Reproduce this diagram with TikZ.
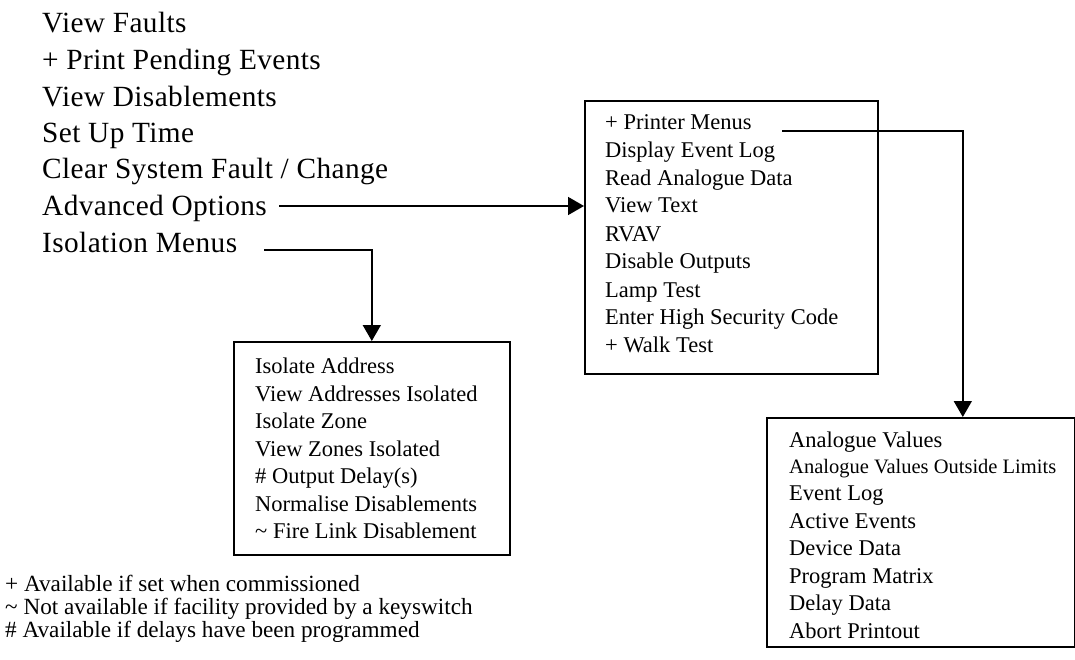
\documentclass[tikz,border=0pt]{standalone}
\usepackage{fontspec}
\setmainfont{Liberation Serif}
\usetikzlibrary{arrows.meta,calc}
\tikzset{
  boxframe/.style={draw=black, line width=1.6pt, inner sep=0pt, anchor=north west, rectangle},
  mainitem/.style={anchor=base west, inner sep=0pt, font=\fontsize{29.3}{34}\selectfont\addfontfeatures{LetterSpace=1.4}},
  item/.style={anchor=base west, inner sep=0pt, font=\fontsize{22.5}{27}\selectfont},
  smallitem/.style={anchor=base west, inner sep=0pt, font=\fontsize{20.5}{25}\selectfont},
  note/.style={anchor=base west, inner sep=0pt, font=\fontsize{23.2}{23}\selectfont},
  link/.style={line width=1.6pt, -{Triangle[length=16pt,width=18pt]}},
}
\begin{document}
\begin{tikzpicture}[x=1pt,y=-1pt]
\useasboundingbox (0,0) rectangle (1075,660);
% main menu
\node[mainitem] (m1) at (42,33) {View Faults};
\node[mainitem] (m2) at (42,70) {+ Print Pending Events};
\node[mainitem] (m3) at (42,107) {View Disablements};
\node[mainitem] (m4) at (42,143) {Set Up Time};
\node[mainitem] (m5) at (42,179) {Clear System Fault / Change};
\node[mainitem] (advt) at (42,216) {Advanced Options};
\node[mainitem] (isot) at (42,252) {Isolation Menus};
% advanced options box
\node[boxframe, minimum width=293pt, minimum height=273pt] (adv) at (584,100) {};
\node[item] (a1) at (605,130) {+ Printer Menus};
\node[item] (a2) at (605,158) {Display Event Log};
\node[item] (a3) at (605,186) {Read Analogue Data};
\node[item] (a4) at (605,213) {View Text};
\node[item] (a5) at (605,241) {RVAV};
\node[item] (a6) at (605,269) {Disable Outputs};
\node[item] (a7) at (605,297) {Lamp Test};
\node[item] (a8) at (605,324) {Enter High Security Code};
\node[item] (a9) at (605,352) {+ Walk Test};
% isolation box
\node[boxframe, minimum width=276pt, minimum height=213pt] (iso) at (233,341) {};
\node[item] (i1) at (255,373) {Isolate Address};
\node[item] (i2) at (255,401) {View Addresses Isolated};
\node[item] (i3) at (255,428) {Isolate Zone};
\node[item] (i4) at (255,456) {View Zones Isolated};
\node[item] (i5) at (255,483) {\# Output Delay(s)};
\node[item] (i6) at (255,511) {Normalise Disablements};
\node[item] (i7) at (255,538) {\textasciitilde\ Fire Link Disablement};
% printer box
\node[boxframe, minimum width=308pt, minimum height=229pt] (prn) at (766,417) {};
\node[item] (p1) at (789,447) {Analogue Values};
\node[smallitem] (p2) at (789,473) {Analogue Values Outside Limits};
\node[item] (p3) at (789,500) {Event Log};
\node[item] (p4) at (789,528) {Active Events};
\node[item] (p5) at (789,555) {Device Data};
\node[item] (p6) at (789,583) {Program Matrix};
\node[item] (p7) at (789,610) {Delay Data};
\node[item] (p8) at (789,638) {Abort Printout};
% notes
\node[note] (n1) at (5,591) {+ Available if set when commissioned};
\node[note] (n2) at (5,614) {\textasciitilde\ Not available if facility provided by a keyswitch};
\node[note] (n3) at (5,637) {\# Available if delays have been programmed};
% connectors
\coordinate (advs) at (279,206);
\coordinate (isos) at (264,250);
\coordinate (prs) at (782,131);
\draw[link] (advs) -- (advs -| adv.west);
\draw[link] (isos) -| (iso.north);
\draw[link] (prs) -| ([xshift=42pt]prn.north);
\end{tikzpicture}
\end{document}
